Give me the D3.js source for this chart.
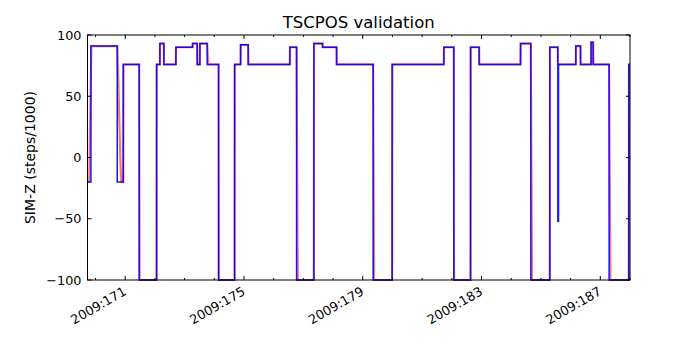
<!DOCTYPE html>
<html>
<head>
<meta charset="utf-8">
<script src="https://cdn.jsdelivr.net/npm/d3@7"></script>
<style>
    body { margin: 0; background: #fff; }
    text { font-family: "DejaVu Sans", sans-serif; fill: #000; }
</style>
</head>
<body>
<div id="my_dataviz"></div>
<script>
// chart values (day of year 2009, SIM-Z in steps/1000)
const TITLE = "TSCPOS validation";
const Y_LABEL = "SIM-Z (steps/1000)";

// blue series, drawn as steps
const cmd_days = [169.73, 169.845, 170.731, 170.933, 171.471, 172.057, 172.168, 172.303, 172.707,
    173.269, 173.424, 173.515, 173.761, 174.145, 174.684, 174.886, 175.141, 176.545, 176.771,
    177.354, 177.646, 178.118, 179.350, 179.990, 181.731, 182.067, 182.630, 182.919, 184.313,
    184.660, 185.300, 185.569, 185.593, 186.175, 186.333, 186.690, 186.758, 187.296, 187.960, 188.0];
const cmd_values = [-20, 91, -20, 76, -100, 76, 93, 76, 90,
    93, 76, 93, 76, -100, 76, 92, 76, 90, -100,
    93, 90, 76, -100, 76, 90, -100, 90, 76, 93,
    -100, 90, -52, 76, 91, 76, 94, 76, -100, 76, 76];

// red series, sampled points joined by straight segments
const tlm_days = [169.73, 169.79, 169.86, 170.735, 170.84, 170.87, 170.935, 170.945, 171.47, 171.485,
    172.055, 172.062, 172.166, 172.172, 172.30, 172.306, 172.705, 172.712, 173.267, 173.273,
    173.42, 173.43, 173.512, 173.52, 173.76, 173.80, 174.145, 174.152, 174.684, 174.69,
    174.885, 174.891, 175.14, 175.15, 176.543, 176.55, 176.77, 176.81, 177.352, 177.36,
    177.645, 177.655, 178.117, 178.125, 179.349, 179.38, 179.989, 179.998, 181.73, 181.738,
    182.066, 182.075, 182.629, 182.638, 182.918, 182.926, 184.312, 184.32, 184.658, 184.70,
    185.298, 185.307, 185.567, 185.575, 186.174, 186.182, 186.332, 186.34, 186.688, 186.696,
    186.757, 186.77, 187.295, 187.34, 187.958, 187.966, 188.0];
const tlm_values = [-20, -20, 91, 91, -5, -20, -20, 76, 76, -100,
    -100, 76, 76, 93, 93, 76, 76, 90, 90, 93,
    93, 76, 76, 93, 93, 76, 76, -100, -100, 76,
    76, 92, 92, 76, 76, 90, 90, -100, -100, 93,
    93, 90, 90, 76, 76, -100, -100, 76, 76, 90,
    90, -100, -100, 90, 90, 76, 76, 93, 93, -100,
    -100, 90, 90, 76, 76, 91, 91, 76, 76, 94,
    94, 76, 76, -100, -100, 76, 76];

const x_domain = [169.73, 188.0];
const y_domain = [-100, 100];
const y_ticks = [-100, -50, 0, 50, 100];
const x_major_days = [171, 175, 179, 183, 187];
const x_tick_labels = ["2009:171", "2009:175", "2009:179", "2009:183", "2009:187"];
const x_minor_days = [170, 172, 173, 174, 176, 177, 178, 180, 181, 182, 184, 185, 186, 188];

const W = 700, H = 350;
const margin = { top: 35, right: 70, bottom: 70, left: 87.5 };
const width = W - margin.left - margin.right,
    height = H - margin.top - margin.bottom;

var svg = d3.select("#my_dataviz")
    .append("svg")
    .attr("width", W)
    .attr("height", H);

var g = svg.append("g")
    .attr("transform", "translate(" + margin.left + "," + margin.top + ")");

var x = d3.scaleLinear().domain(x_domain).range([0, width]);
var y = d3.scaleLinear().domain(y_domain).range([height, 0]);

// clip lines at the left/right edges, leave a little room top and bottom
svg.append("defs").append("clipPath")
    .attr("id", "plot-clip")
    .append("rect")
    .attr("y", -2)
    .attr("width", width)
    .attr("height", height + 4);

var lines = g.append("g").attr("clip-path", "url(#plot-clip)");

var tlm = tlm_days.map((d, i) => [d, tlm_values[i]]);
var cmd = cmd_days.map((d, i) => [d, cmd_values[i]]);

lines.append("path")
    .datum(tlm)
    .attr("fill", "none")
    .attr("stroke", "#ff0000")
    .attr("stroke-opacity", 0.55)
    .attr("stroke-width", 2.2)
    .attr("d", d3.line().x(d => x(d[0])).y(d => y(d[1])));

lines.append("path")
    .datum(cmd)
    .attr("fill", "none")
    .attr("stroke", "#0000ff")
    .attr("stroke-opacity", 0.9)
    .attr("stroke-width", 1.5)
    .attr("d", d3.line().curve(d3.curveStepAfter).x(d => x(d[0])).y(d => y(d[1])));

// axes frame
g.append("rect")
    .attr("width", width)
    .attr("height", height)
    .attr("fill", "none")
    .attr("stroke", "#000")
    .attr("stroke-width", 1);

// ticks point inwards on all four sides
function tickMarks(values, len) {
    g.append("g").selectAll("line.b").data(values).join("line")
        .attr("x1", d => x(d)).attr("x2", d => x(d))
        .attr("y1", height).attr("y2", height - len)
        .attr("stroke", "#000");
    g.append("g").selectAll("line.t").data(values).join("line")
        .attr("x1", d => x(d)).attr("x2", d => x(d))
        .attr("y1", 0).attr("y2", len)
        .attr("stroke", "#000");
}
tickMarks(x_major_days, 4);
tickMarks(x_minor_days.filter(d => d >= x_domain[0] && d <= x_domain[1]), 2);

var yTicks = g.append("g");
yTicks.selectAll("line.l").data(y_ticks).join("line")
    .attr("x1", 0).attr("x2", 4)
    .attr("y1", d => y(d)).attr("y2", d => y(d))
    .attr("stroke", "#000");
yTicks.selectAll("line.r").data(y_ticks).join("line")
    .attr("x1", width - 4).attr("x2", width)
    .attr("y1", d => y(d)).attr("y2", d => y(d))
    .attr("stroke", "#000");

// y tick labels
g.append("g").selectAll("text").data(y_ticks).join("text")
    .attr("x", -6)
    .attr("y", d => y(d))
    .attr("dy", "0.36em")
    .attr("text-anchor", "end")
    .style("font-size", "12.8px")
    .text(d => d < 0 ? "\u2212" + Math.abs(d) : d);

// x tick labels, rotated 30 degrees
g.append("g").selectAll("text").data(x_major_days).join("text")
    .attr("transform", d => "translate(" + (x(d) + 2) + "," + (height + 14) + ") rotate(-30)")
    .attr("text-anchor", "end")
    .style("font-size", "12.8px")
    .text((d, i) => x_tick_labels[i]);

svg.append("text")
    .attr("x", margin.left + width / 2)
    .attr("y", 28)
    .attr("text-anchor", "middle")
    .style("font-size", "16.5px")
    .text(TITLE);

svg.append("text")
    .attr("transform", "translate(34.5," + (margin.top + height / 2) + ") rotate(-90)")
    .attr("text-anchor", "middle")
    .style("font-size", "14px")
    .text(Y_LABEL);
</script>
</body>
</html>
